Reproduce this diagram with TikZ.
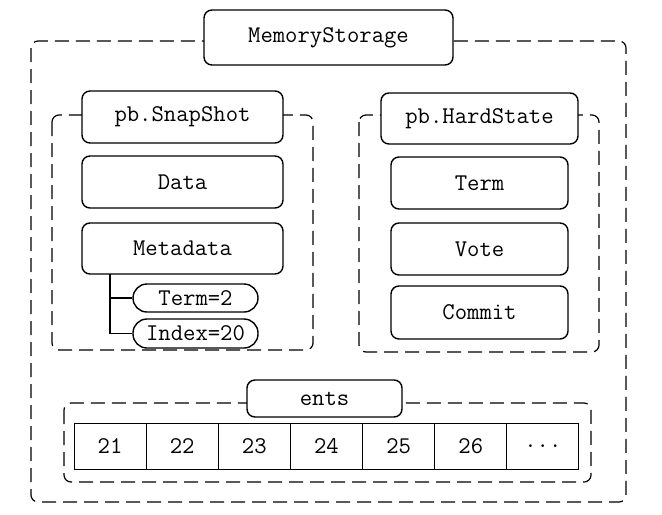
\documentclass[tikz,border=0pt]{standalone}
\usepackage{tikz}
\newcommand{\moredots}{...}

\begin{document}
\begin{tikzpicture}[x=0.5pt,y=-0.5pt,
    font=\fontsize{12}{14}\selectfont\ttfamily,
    field/.style={draw, fill=white, rounded corners=4pt, line width=0.7pt, inner sep=0pt},
    group/.style={draw, dash pattern=on 7pt off 3.5pt, rounded corners=3.5pt, line width=0.6pt},
    cell/.style={draw, line width=0.5pt, minimum width=36.07pt, minimum height=23pt, inner sep=0pt}]
    \useasboundingbox (0,0) rectangle (662,514);
    % dashed groups
    \draw[group] (31,41) rectangle (626,502);
    \draw[group] (52,115) rectangle (313,350);
    \draw[group] (359,115) rectangle (599,352);
    \draw[group] (64,403) rectangle (591,482);
    % MemoryStorage
    \node[field, minimum width=124.5pt, minimum height=27.5pt] (ms) at (328.5,37.5) {MemoryStorage};
    % pb.SnapShot
    \node[field, minimum width=100.5pt, minimum height=26pt] (snap) at (182.5,117) {pb.SnapShot};
    \node[field, minimum width=100.5pt, minimum height=26pt] (data) at (182.5,182) {Data};
    \node[field, minimum width=100.5pt, minimum height=25.5pt] (meta) at (182.5,248.5) {Metadata};
    \node[field, rounded corners=7pt, minimum width=62.5pt, minimum height=14pt] (term2) at (195.5,298) {Term=2};
    \node[field, rounded corners=7pt, minimum width=62.5pt, minimum height=14.5pt] (index) at (195.5,333.5) {Index=20};
    \coordinate (branch) at (110,274);
    \draw[line width=0.6pt] (branch) |- (index.west);
    \draw[line width=0.6pt] (branch |- term2.west) -- (term2.west);
    % pb.HardState
    \node[field, minimum width=98.5pt, minimum height=25.5pt] (hard) at (479.5,118.5) {pb.HardState};
    \node[field, minimum width=88.5pt, minimum height=26pt] (term) at (479.5,183) {Term};
    \node[field, minimum width=88.5pt, minimum height=26pt] (vote) at (479.5,249) {Vote};
    \node[field, minimum width=88.5pt, minimum height=26.5pt] (commit) at (479.5,312.5) {Commit};
    % ents
    \node[field, minimum width=77.5pt, minimum height=18.5pt] (ents) at (324.5,398.5) {ents};
    \foreach \v [count=\i] in {21,22,23,24,25,26,\moredots}
        \node[cell] (c\i) at ({74+72.14*(\i-0.5)},446) {\v};
\end{tikzpicture}
\end{document}
